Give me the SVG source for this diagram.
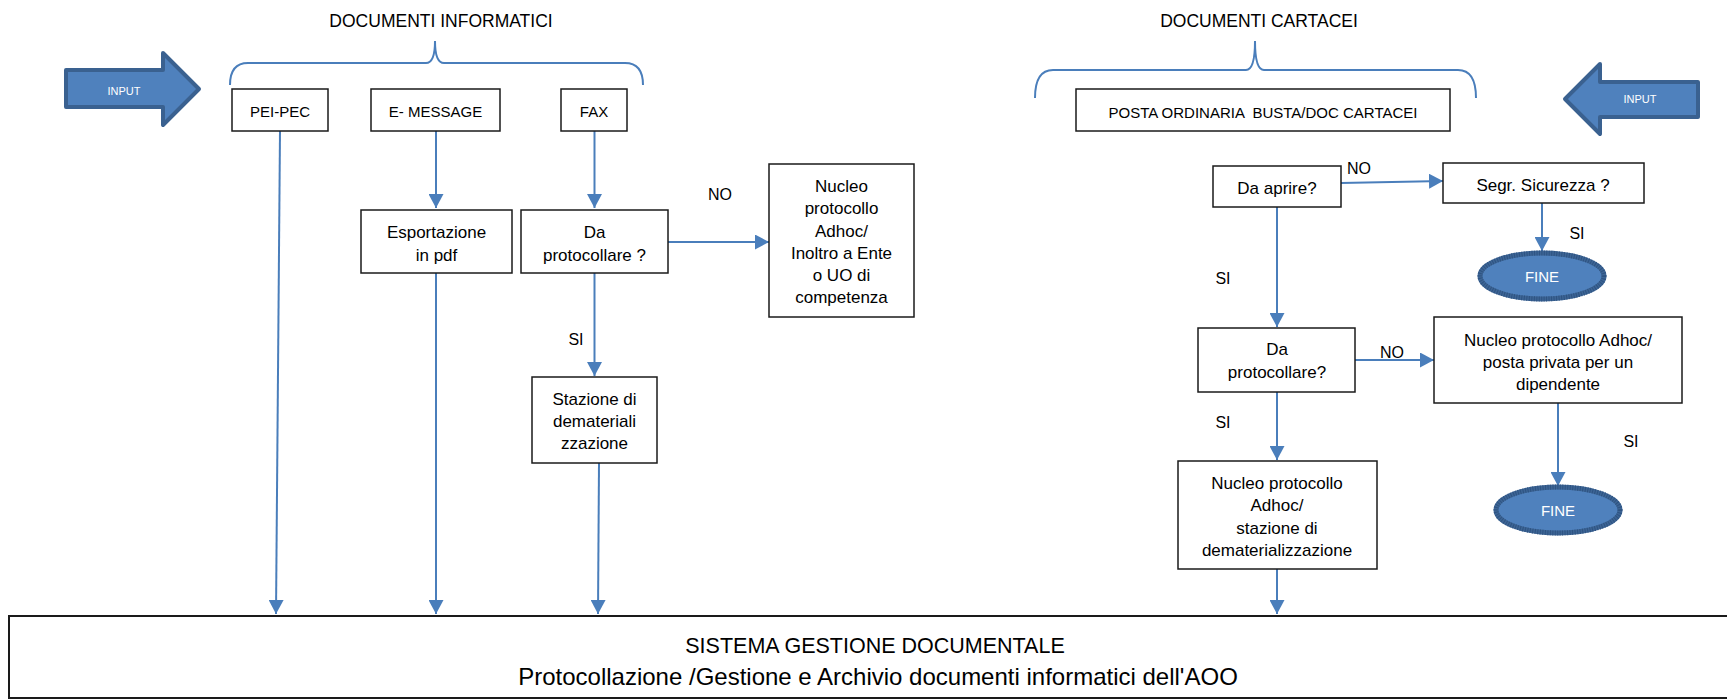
<svg xmlns="http://www.w3.org/2000/svg" width="1727" height="700" viewBox="0 0 1727 700">
<defs>
<style>
.box{fill:#fff;stroke:#1a1a1a;stroke-width:1.5}
.t{font-family:"Liberation Sans",Arial,sans-serif;font-size:17px;fill:#000;text-anchor:middle}
.tc{font-family:"Liberation Sans",Arial,sans-serif;font-size:15px;fill:#000;text-anchor:middle}
.ttl{font-family:"Liberation Sans",Arial,sans-serif;font-size:17.5px;fill:#000;text-anchor:middle}
.sys1{font-family:"Liberation Sans",Arial,sans-serif;font-size:21.5px;fill:#000;text-anchor:middle}
.sys2{font-family:"Liberation Sans",Arial,sans-serif;font-size:24px;fill:#000;text-anchor:middle}
.lbl{font-family:"Liberation Sans",Arial,sans-serif;font-size:16px;fill:#000;text-anchor:middle}
.wt{font-family:"Liberation Sans",Arial,sans-serif;font-size:11px;fill:#fff;text-anchor:middle}
.wf{font-family:"Liberation Sans",Arial,sans-serif;font-size:15px;fill:#fff;text-anchor:middle}
.con{fill:none;stroke:#4A7EBB;stroke-width:2;marker-end:url(#ah)}
.brace{fill:none;stroke:#4A7EBB;stroke-width:2}
.big{fill:#4F81BD;stroke:#3A6190;stroke-width:4;stroke-linejoin:round}
.fine{fill:#4F81BD;stroke:#3D6595;stroke-width:5}
.fine2{fill:none;stroke:#2E5382;stroke-width:5;stroke-dasharray:1 1.5}
</style>
<marker id="ah" markerUnits="userSpaceOnUse" markerWidth="15" markerHeight="15" refX="14" refY="7.5" orient="auto">
<path d="M0,0 L14,7.5 L0,15 Z" fill="#4A7EBB"/>
</marker>
</defs>
<rect width="1727" height="700" fill="#fff"/>

<g id="titles">
<text class="ttl" x="441" y="27">DOCUMENTI INFORMATICI</text>
<text class="ttl" x="1259" y="27">DOCUMENTI CARTACEI</text>
</g>

<g id="braces">
<path class="brace" d="M230,85 Q230,63 248,63 L426,63 Q435,63 435,41 Q435,63 444,63 L625,63 Q643,63 643,85"/>
<path class="brace" d="M1035,98 Q1035,70 1053,70 L1246,70 Q1255,70 1255,41 Q1255,70 1264,70 L1458,70 Q1476,70 1476,98"/>
</g>

<g id="input-left">
<path class="big" d="M66,70 L163,70 L163,53 L199,89 L163,125 L163,107 L66,107 Z"/>
<text class="wt" x="124" y="95">INPUT</text>
</g>
<g id="input-right">
<path class="big" d="M1698,82 L1600,82 L1600,64 L1565,99 L1600,134 L1600,117 L1698,117 Z"/>
<text class="wt" x="1640" y="103">INPUT</text>
</g>

<g id="connectors">
<path class="con" d="M280,131 L276,614"/>
<path class="con" d="M436,131 L436,208"/>
<path class="con" d="M594.5,131 L594.5,208"/>
<path class="con" d="M436,273 L436,614"/>
<path class="con" d="M668,242 L769,242"/>
<path class="con" d="M594.5,273 L594.5,376"/>
<path class="con" d="M599,463 L598,614"/>
<path class="con" d="M1341,183 L1443,181"/>
<path class="con" d="M1542,203 L1542,251"/>
<path class="con" d="M1277,207 L1277,327"/>
<path class="con" d="M1355,360 L1434,360"/>
<path class="con" d="M1277,392 L1277,460"/>
<path class="con" d="M1277,569 L1277,614"/>
<path class="con" d="M1558,403 L1558,486"/>
</g>

<g id="edge-labels">
<text class="lbl" x="720" y="200">NO</text>
<text class="lbl" x="576" y="345">SI</text>
<text class="lbl" x="1359" y="174">NO</text>
<text class="lbl" x="1577" y="239">SI</text>
<text class="lbl" x="1223" y="284">SI</text>
<text class="lbl" x="1392" y="358">NO</text>
<text class="lbl" x="1223" y="428">SI</text>
<text class="lbl" x="1631" y="447">SI</text>
</g>

<g id="pei-pec">
<rect class="box" x="232" y="89" width="96" height="42"/>
<text class="tc" x="280" y="117">PEI-PEC</text>
</g>
<g id="e-message">
<rect class="box" x="371" y="89" width="129" height="42"/>
<text class="tc" x="435.5" y="117">E- MESSAGE</text>
</g>
<g id="fax">
<rect class="box" x="561" y="89" width="66" height="42"/>
<text class="tc" x="594" y="117">FAX</text>
</g>
<g id="esportazione">
<rect class="box" x="361" y="210" width="151" height="63"/>
<text class="t" x="436.5" y="238">Esportazione</text>
<text class="t" x="436.5" y="261">in pdf</text>
</g>
<g id="da-protocollare-1">
<rect class="box" x="521" y="210" width="147" height="63"/>
<text class="t" x="594.5" y="238">Da</text>
<text class="t" x="594.5" y="261">protocollare ?</text>
</g>
<g id="nucleo-inoltro">
<rect class="box" x="769" y="164" width="145" height="153"/>
<text class="t" x="841.5" y="192">Nucleo</text>
<text class="t" x="841.5" y="214">protocollo</text>
<text class="t" x="841.5" y="237">Adhoc/</text>
<text class="t" x="841.5" y="259">Inoltro a Ente</text>
<text class="t" x="841.5" y="281">o UO di</text>
<text class="t" x="841.5" y="303">competenza</text>
</g>
<g id="stazione">
<rect class="box" x="532" y="377" width="125" height="86"/>
<text class="t" x="594.5" y="405">Stazione di</text>
<text class="t" x="594.5" y="427">demateriali</text>
<text class="t" x="594.5" y="449">zzazione</text>
</g>

<g id="posta">
<rect class="box" x="1076" y="89" width="374" height="42"/>
<text class="tc" x="1263" y="118" xml:space="preserve">POSTA ORDINARIA  BUSTA/DOC CARTACEI</text>
</g>
<g id="da-aprire">
<rect class="box" x="1213" y="166" width="128" height="41"/>
<text class="t" x="1277" y="194">Da aprire?</text>
</g>
<g id="segr-sicurezza">
<rect class="box" x="1443" y="163" width="201" height="40"/>
<text class="t" x="1543" y="191">Segr. Sicurezza ?</text>
</g>
<g id="fine-1">
<ellipse class="fine" cx="1542" cy="276" rx="62" ry="23"/>
<ellipse class="fine2" cx="1542" cy="276" rx="62" ry="23"/>
<text class="wf" x="1542" y="282">FINE</text>
</g>
<g id="da-protocollare-2">
<rect class="box" x="1198" y="328" width="157" height="64"/>
<text class="t" x="1277" y="355">Da</text>
<text class="t" x="1277" y="378">protocollare?</text>
</g>
<g id="nucleo-privata">
<rect class="box" x="1434" y="317" width="248" height="86"/>
<text class="t" x="1558" y="346">Nucleo protocollo Adhoc/</text>
<text class="t" x="1558" y="368">posta privata per un</text>
<text class="t" x="1558" y="390">dipendente</text>
</g>
<g id="nucleo-stazione">
<rect class="box" x="1178" y="461" width="199" height="108"/>
<text class="t" x="1277" y="489">Nucleo protocollo</text>
<text class="t" x="1277" y="511">Adhoc/</text>
<text class="t" x="1277" y="534">stazione di</text>
<text class="t" x="1277" y="556">dematerializzazione</text>
</g>
<g id="fine-2">
<ellipse class="fine" cx="1558" cy="510" rx="62" ry="23"/>
<ellipse class="fine2" cx="1558" cy="510" rx="62" ry="23"/>
<text class="wf" x="1558" y="516">FINE</text>
</g>

<g id="sistema">
<rect class="box" x="9" y="616" width="1730" height="82" style="stroke-width:2"/>
<text class="sys1" x="875" y="653">SISTEMA GESTIONE DOCUMENTALE</text>
<text class="sys2" x="878" y="685">Protocollazione /Gestione e Archivio documenti informatici dell'AOO</text>
</g>
</svg>
